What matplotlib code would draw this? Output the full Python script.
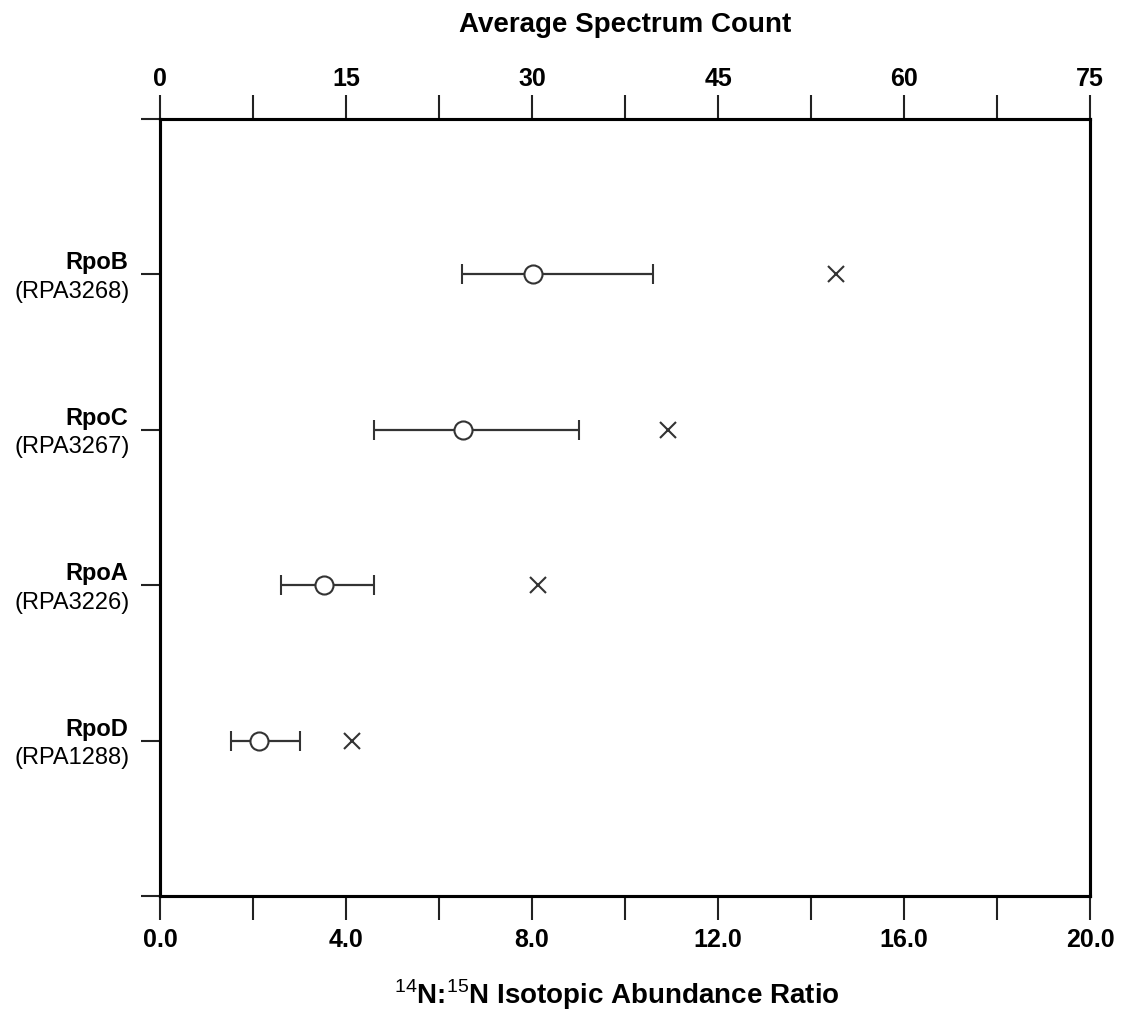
import matplotlib.pyplot as plt
import numpy as np

plt.rcParams['font.family'] = ['Liberation Sans', 'DejaVu Sans']
plt.rcParams['mathtext.fontset'] = 'custom'
plt.rcParams['mathtext.rm'] = 'Liberation Sans'

# datos
proteinas = ['RpoB', 'RpoC', 'RpoA', 'RpoD']
genes = ['(RPA3268)', '(RPA3267)', '(RPA3226)', '(RPA1288)']
ratio = [8.02, 6.52, 3.52, 2.12]
ratio_bajo = [6.50, 4.60, 2.60, 1.52]
ratio_alto = [10.60, 9.00, 4.60, 3.02]
conteo = [54.5, 41.0, 30.5, 15.5]

color = '#333333'
posiciones = np.arange(1, len(proteinas) + 1)

fig = plt.figure(figsize=(11.21, 10.12), dpi=100)
ax = fig.add_axes([0.1427, 0.1136, 0.8297, 0.7678])
ax2 = ax.twiny()

err = [np.array(ratio) - np.array(ratio_bajo), np.array(ratio_alto) - np.array(ratio)]
ax.errorbar(ratio, posiciones, xerr=err, fmt='o', mfc='white', mec=color, ms=13, mew=1.5,
            ecolor=color, elinewidth=1.6, capsize=7, capthick=1.6, zorder=3)
ax2.plot(conteo, posiciones, 'x', color=color, ms=11, mew=1.5)

ax.set_xlim(0, 20)
ax2.set_xlim(0, 75)
ax.set_ylim(5, 0)

ax.set_xticks(np.arange(0, 21, 4))
ax.set_xticklabels(['%.1f' % v for v in np.arange(0, 21, 4)], fontweight='bold', fontsize=18)
ax.set_xticks(np.arange(2, 20, 4), minor=True)
ax2.set_xticks(np.arange(0, 76, 15))
ax2.set_xticklabels([str(v) for v in range(0, 76, 15)], fontweight='bold', fontsize=18)
ax2.set_xticks(np.arange(7.5, 75, 15), minor=True)

ax.set_yticks(np.arange(0, 6))
ax.set_yticklabels([])
for a in (ax, ax2):
    a.tick_params(axis='x', which='both', direction='out', length=17, width=1.5, color='#222222')
    for s in a.spines.values():
        s.set_linewidth(2.2)
ax.tick_params(axis='x', pad=5)
ax2.tick_params(axis='x', pad=4)
ax.tick_params(axis='y', direction='out', length=14, width=1.5, color='#222222')

# etiquetas de las filas en dos lineas
for p, nombre, gen in zip(posiciones, proteinas, genes):
    ax.annotate(nombre, xy=(0, p), xycoords=('axes fraction', 'data'), xytext=(-23, 9),
                textcoords='offset points', ha='right', va='center', fontsize=17, fontweight='bold')
    ax.annotate(gen, xy=(0, p), xycoords=('axes fraction', 'data'), xytext=(-22, -12),
                textcoords='offset points', ha='right', va='center', fontsize=17)

ax.set_xlabel(r'$^{14}$N:$^{15}$N Isotopic Abundance Ratio', fontsize=20, fontweight='bold')
ax.xaxis.set_label_coords(0.491, -0.103)
ax2.set_xlabel('Average Spectrum Count', fontsize=20, fontweight='bold', labelpad=25)

fig.savefig('out.png', dpi=100)
